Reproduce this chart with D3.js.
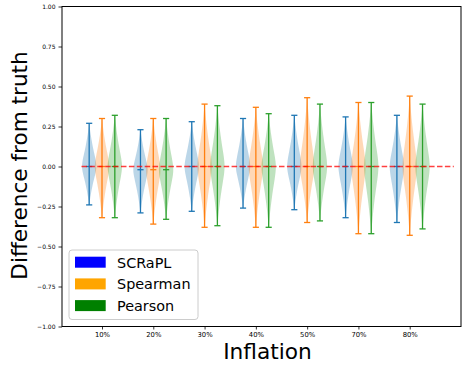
<!DOCTYPE html>
<html>
<head>
<meta charset="utf-8">
<script src="https://cdn.jsdelivr.net/npm/d3@7"></script>
<style>
  html, body { margin: 0; padding: 0; background: #fff; }
  svg { display: block; font-family: "DejaVu Sans", sans-serif; }
</style>
</head>
<body>
<svg id="chart" width="462" height="366"></svg>
<script>
// Inflation levels on the x axis
const categories = ["10%", "20%", "30%", "40%", "50%", "70%", "80%"];
const methods = ["SCRaPL", "Spearman", "Pearson"];

// Extremes and median of each method's difference from truth
const scraplMax   = [0.27, 0.23, 0.28, 0.30, 0.32, 0.31, 0.32];
const scraplMin   = [-0.24, -0.29, -0.28, -0.26, -0.27, -0.32, -0.35];
const scraplMed   = [0.00, -0.02, 0.00, 0.00, 0.00, 0.00, 0.00];
const spearmanMax = [0.30, 0.30, 0.39, 0.37, 0.43, 0.40, 0.44];
const spearmanMin = [-0.32, -0.36, -0.38, -0.38, -0.35, -0.42, -0.43];
const spearmanMed = [0.00, -0.02, 0.00, 0.00, 0.00, 0.00, 0.00];
const pearsonMax  = [0.32, 0.30, 0.38, 0.33, 0.39, 0.40, 0.39];
const pearsonMin  = [-0.32, -0.33, -0.37, -0.38, -0.34, -0.42, -0.39];
const pearsonMed  = [0.00, -0.02, 0.00, 0.00, 0.00, 0.00, 0.00];

// Relative density half-width, from the median (0) out to an extreme (1)
const densityProfile = [1.0, 0.95, 0.84, 0.71, 0.58, 0.46, 0.35, 0.25, 0.16, 0.08, 0.03];

const yTicks = [1.0, 0.75, 0.5, 0.25, 0.0, -0.25, -0.5, -0.75, -1.0];

const lineColors = ["#1f77b4", "#ff7f0e", "#2ca02c"];
const legendColors = ["#0000ff", "#ffa500", "#008000"];

const series = [
  { name: methods[0], max: scraplMax, min: scraplMin, med: scraplMed },
  { name: methods[1], max: spearmanMax, min: spearmanMin, med: spearmanMed },
  { name: methods[2], max: pearsonMax, min: pearsonMin, med: pearsonMed }
];

const svg = d3.select("#chart");
const plotLeft = 62, plotRight = 461, plotTop = 6.5, plotBottom = 326.5;

const x = d3.scaleLinear().domain([0.22, 8]).range([plotLeft, plotRight]);
const y = d3.scaleLinear().domain([-1, 1]).range([plotBottom, plotTop]);

const offsets = [-0.25, 0, 0.25];
const halfWidth = 0.14;   // violin half-width, x units
const capHalf = 0.06;     // half-length of the extreme/median caps

const plot = svg.append("g");

series.forEach((s, si) => {
  categories.forEach((c, ci) => {
    const pos = ci + 1 + offsets[si];
    const med = s.med[ci], hi = s.max[ci], lo = s.min[ci];
    const n = densityProfile.length - 1;
    const pts = [];
    // upper half (median -> max), then lower half (min -> median)
    for (let k = n; k >= 0; k--) pts.push({ v: med + (hi - med) * k / n, w: densityProfile[k] });
    for (let k = 1; k <= n; k++) pts.push({ v: med - (med - lo) * k / n, w: densityProfile[k] });
    const area = d3.area()
      .y(d => y(d.v))
      .x0(d => x(pos - halfWidth * d.w))
      .x1(d => x(pos + halfWidth * d.w))
      .curve(d3.curveCatmullRom);
    plot.append("path")
      .attr("d", area(pts))
      .attr("fill", lineColors[si])
      .attr("fill-opacity", 0.3);

    const g = plot.append("g").attr("stroke", lineColors[si]).attr("stroke-width", 1.3);
    g.append("line").attr("x1", x(pos)).attr("x2", x(pos)).attr("y1", y(hi)).attr("y2", y(lo));
    [hi, lo, med].forEach(v => {
      g.append("line")
        .attr("x1", x(pos - capHalf)).attr("x2", x(pos + capHalf))
        .attr("y1", y(v)).attr("y2", y(v));
    });
  });
});

// Zero reference line
plot.append("line")
  .attr("x1", x(0.6)).attr("x2", x(7.86))
  .attr("y1", y(0)).attr("y2", y(0))
  .attr("stroke", "#ff0000")
  .attr("stroke-opacity", 0.75)
  .attr("stroke-width", 1.5)
  .attr("stroke-dasharray", "5.5,2.4");

// Axes
const yAxis = d3.axisLeft(y).tickValues(yTicks).tickSize(3.5).tickPadding(3)
  .tickFormat(d => d3.format(".2f")(d).replace("-", "\u2212"));
const gy = svg.append("g").attr("transform", `translate(${plotLeft},0)`).call(yAxis);
gy.select(".domain").remove();
gy.selectAll("text").attr("font-size", 6).attr("fill", "#000").attr("font-family", "DejaVu Sans");
gy.selectAll("line").attr("stroke", "#000").attr("stroke-width", 0.8);

const xAxis = d3.axisBottom(x).tickValues(d3.range(1, categories.length + 1))
  .tickFormat((d, i) => categories[i]).tickSize(3).tickPadding(2.5);
const gx = svg.append("g").attr("transform", `translate(0,${plotBottom})`).call(xAxis);
gx.select(".domain").remove();
gx.selectAll("text").attr("font-size", 6.8).attr("fill", "#000").attr("font-family", "DejaVu Sans");
gx.selectAll("line").attr("stroke", "#000").attr("stroke-width", 0.8);

// Frame
svg.append("rect")
  .attr("x", plotLeft).attr("y", plotTop)
  .attr("width", plotRight - plotLeft).attr("height", plotBottom - plotTop)
  .attr("fill", "none").attr("stroke", "#000").attr("stroke-width", 1);

// Axis titles
svg.append("text")
  .attr("transform", `translate(26.5,${(plotTop + plotBottom) / 2 - 1}) rotate(-90)`)
  .attr("text-anchor", "middle")
  .attr("font-size", 21.6)
  .text("Difference from truth");

svg.append("text")
  .attr("x", (plotLeft + plotRight) / 2 + 6).attr("y", 359.3)
  .attr("text-anchor", "middle")
  .attr("font-size", 21.7)
  .text("Inflation");

// Legend
const lg = svg.append("g").attr("transform", "translate(69,250)");
lg.append("rect")
  .attr("width", 129).attr("height", 69.5)
  .attr("rx", 3).attr("ry", 3)
  .attr("fill", "#fff").attr("fill-opacity", 0.8)
  .attr("stroke", "#cccccc").attr("stroke-width", 1);
methods.forEach((m, i) => {
  const yy = 6.7 + i * 21.7;
  lg.append("rect")
    .attr("x", 6).attr("y", yy)
    .attr("width", 30.7).attr("height", 11)
    .attr("fill", legendColors[i]);
  lg.append("text")
    .attr("x", 48).attr("y", yy + 10.8)
    .attr("font-size", 14.4)
    .text(m);
});
</script>
</body>
</html>
